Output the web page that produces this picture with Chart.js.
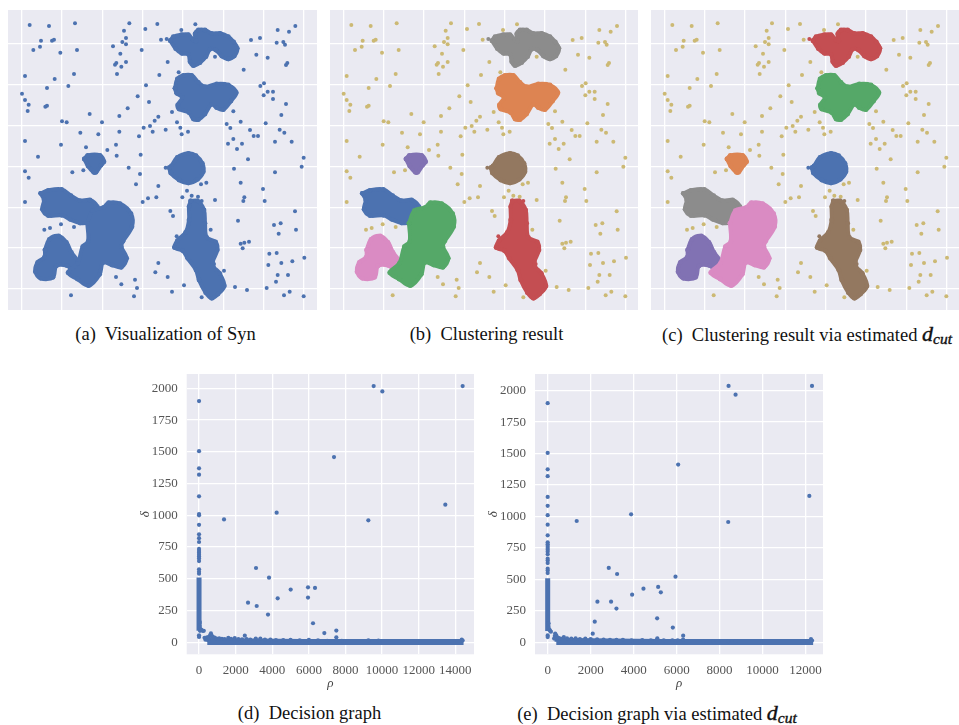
<!DOCTYPE html>
<html>
<head>
<meta charset="utf-8">
<script src="https://cdn.jsdelivr.net/npm/chart.js@4/dist/chart.umd.min.js"></script>
<style>
  html, body { margin: 0; padding: 0; background: #fff; }
  body { position: relative; width: 959px; height: 725px; overflow: hidden; }
  canvas { position: absolute; }
  .cap { position: absolute; transform: translate(-50%, -50%); white-space: pre; color: #111;
         font: 18.5px "Liberation Serif", serif; }
  .cap b { font-style: italic; font-size: 22px; font-weight: 400; -webkit-text-stroke: 0.4px #111; }
  .cap sub { font-size: 15.5px; font-style: italic; vertical-align: -3px; line-height: 0; }
</style>
</head>
<body>
<canvas id="chartA"></canvas>
<canvas id="chartB"></canvas>
<canvas id="chartC"></canvas>
<canvas id="chartD"></canvas>
<canvas id="chartE"></canvas>
<div class="cap" style="left:165.5px;top:334px">(a)  Visualization of Syn</div>
<div class="cap" style="left:486.5px;top:334px">(b)  Clustering result</div>
<div class="cap" style="left:807px;top:334px">(c)  Clustering result via estimated <b>d<sub>cut</sub></b></div>
<div class="cap" style="left:309.5px;top:713px">(d)  Decision graph</div>
<div class="cap" style="left:657px;top:713px">(e)  Decision graph via estimated <b>d<sub>cut</sub></b></div>
<script>
// scattered points of the Syn set
const noisePts = [[89,45],[147,48],[225,40],[388,40],[436,57],[472,42],[544,60],[586,43],[833,60],[886,48],[867,65],
  [123,92],[156,92],[162,89],[120,110],[100,120],[181,128],[231,120],[339,109],[372,62],[378,84],[367,96],[378,103],
  [361,131],[425,120],[483,89],[753,90],[780,84],[830,98],[850,96],[855,104],[769,134],[803,143],[645,140],
  [503,156],[378,156],[349,159],[345,164],[364,170],[351,192],[75,198],[164,207],[222,192],[478,195],[536,187],
  [731,179],[862,159],[858,165],[205,228],[141,234],[438,226],[781,228],[792,220],[803,245],[819,245],[791,256],
  [819,267],[66,251],[75,270],[86,284],[83,303],[136,290],[141,287],[413,259],[447,276],[383,295],[858,282],[700,304],
  [516,306],[269,312],[358,318],[475,320],[844,315],[464,332],[186,334],[200,337],[306,337],[531,337],[722,335],
  [797,340],[680,342],[691,354],[450,348],[431,353],[541,353],[497,359],[458,365],[564,365],[545,373],[358,365],
  [241,368],[295,373],[417,379],[750,360],[839,359],[853,368],[761,378],[774,378],[700,387],[75,393],[183,404],
  [348,404],[684,401],[726,401],[825,395],[875,395],[258,412],[322,420],[711,417],[114,440],[350,437],[422,434],
  [744,448],[911,443],[905,470],[386,473],[217,487],[250,481],[75,484],[86,503],[420,492],[702,476],[825,487],
  [408,523],[475,528],[603,523],[619,518],[722,518],[561,542],[789,537],[575,557],[594,560],[547,562],[469,562],
  [444,565],[428,576],[75,576],[733,562],[730,573],[645,570],[794,573],[511,603],[519,618],[885,604],
  [714,632],[822,645],[842,640],[183,643],[222,651],[133,659],[150,654],[632,659],[836,671],[888,659],
  [722,701],[733,698],[747,695],[728,715],[808,731],[830,729],[913,743],[877,754],[844,759],[805,765],
  [475,759],[672,782],[466,787],[833,795],[864,795],[348,801],[503,801],[405,809],[828,815],[364,823],
  [552,826],[705,831],[411,834],[800,834],[741,840],[516,845],[869,845],[852,856],[911,859],[213,856],[402,859],[605,862]];

// stray points that still belong to a cluster
const topStray = [[500,87]];
const roundStray = [[497,473]];
const longStray = [[530,679],[522,712],[605,573],[642,762]];

// dense clusters, each one traced along its rim
const topRim = [[511,92],[520,80],[545,74],[565,74],[580,90],[588,93],[585,72],[595,60],[615,60],[635,70],[660,70],[685,80],[701,96],
  [712,115],[703,138],[685,147],[665,138],[647,120],[630,118],[618,140],[600,158],[580,167],[570,155],[565,133],[545,130],[527,116]];
const secondRim = [[525,235],[532,207],[550,196],[575,196],[595,217],[615,230],[650,222],[685,225],[709,248],[693,273],[670,299],
  [650,293],[635,283],[615,312],[595,329],[580,327],[567,308],[537,297],[533,285],[547,262],[530,250]];
const tinyRim = [[253,447],[263,436],[300,436],[312,455],[303,466],[288,487],[281,487],[264,468]];
const roundRim = [[508,473],[514,468],[532,442],[565,430],[588,437],[607,460],[610,485],[593,508],[565,519],[537,510],[512,489]];
const longRim = [[572,573],[593,573],[612,600],[615,640],[620,682],[647,696],[652,720],[638,755],[640,770],[659,790],[673,828],
  [654,852],[635,865],[617,848],[597,810],[588,780],[563,745],[548,722],[524,713],[532,692],[557,667],[567,630],[567,590]];
const upperRim = [[122,550],[145,541],[185,538],[213,557],[240,572],[270,570],[292,590],[288,608],[270,623],[262,637],[240,639],[210,628],[185,616],[145,617],[127,598],[132,570]];
const greenRim = [[262,640],[278,602],[311,592],[326,578],[360,581],[393,611],[396,650],[369,694],[364,710],[380,745],[364,772],[336,765],
  [309,758],[299,793],[266,827],[232,807],[204,788],[233,760],[248,710],[264,695]];
const lowerRim = [[135,720],[148,688],[176,678],[199,697],[214,727],[233,755],[220,782],[201,767],[169,768],[159,802],[122,805],[106,785],[113,757],[133,742]];

const synGridX = [65,186,307,428,549,670,791,912];
const synGridY = [100,223,346,469,592,714,835];

// decision graph (d)
const peaksD = [[1365,968],[4240,1021],[3113,585],[3823,509],[5006,415],[5953,433],[6335,428],[5953,352],[4296,346],[2676,312],[3150,286],
  [3768,218],[6226,150],[6845,73],[7500,92],[7500,39],[7373,1459],[9539,2018],[10013,1976],[14400,2018],[13453,1084],[9248,961]];
const columnD = [[0,1900],[0,1505],[0,1370],[0,1320],[0,1150],[0,1010],[0,1000],[0,925],[0,850],[0,820],[0,790],[0,735],[0,720],[0,705],[0,690],
  [0,675],[0,660],[0,640],[0,575],[0,555],[0,540],[20,150],[30,130],[40,160],[30,115],[50,90],[80,100],[110,100],[150,95],[200,90],[260,90],[0,55],[0,42]];
const columnLineD = [[0,90],[0,510]];
const tailD = [[300,35],[350,20],[400,38],[450,25],[500,40],[550,30],[600,55],[650,70],[700,50],[750,42],[850,38],[950,30],[1100,32],[1250,28],
  [1400,26],[1600,35],[1750,28],[1950,33],[2150,25],[2350,24],[2500,52],[2600,25],[2800,22],[3100,30],[3350,30],[3600,22],[3900,22],[4200,18],
  [4600,18],[5000,20],[5500,15],[6000,20],[6500,15],[7000,12],[7500,15],[7800,12],[9250,15],[9800,14],[14350,22],[14400,14]];
const baseD = [[450,2],[14450,2]];
const upperBandD = [[400,18],[3000,15],[7000,9],[14400,7]];
const xTicksD = [0,2000,4000,6000,8000,10000,12000,14000];

// decision graph (e)
const peaksE = [[8416,2037],[8742,1968],[12298,2037],[12174,1163],[6071,1412],[8400,956],[1351,964],[3882,1017],[2842,591],[3230,543],[5947,522],
  [3929,379],[4457,426],[5140,440],[5264,397],[2314,323],[2950,323],[3199,268],[2190,164],[5093,191],[5823,117],[6304,53],[2096,69]];
const columnE = [[0,1900],[0,1505],[0,1375],[0,1320],[0,1155],[0,1085],[0,1010],[0,935],[0,850],[0,795],[0,780],[0,765],[0,750],[0,735],[0,720],
  [0,700],[0,665],[0,650],[0,630],[0,585],[0,570],[0,550],[20,150],[30,130],[40,150],[40,115],[60,100],[90,100],[120,90],[150,85],[0,55],[0,42]];
const columnLineE = [[0,90],[0,510]];
const tailE = [[300,30],[330,50],[350,70],[400,55],[430,40],[500,35],[600,30],[750,42],[900,32],[1100,30],[1300,32],[1500,25],[1750,30],[2000,26],
  [2300,24],[2600,22],[2900,20],[3200,20],[3500,20],[3900,15],[4400,18],[4800,15],[5100,32],[5400,15],[5800,15],[6050,16],[6300,22],[7250,10],
  [7700,10],[8400,10],[8750,10],[12250,25],[12300,14]];
const baseE = [[400,2],[12350,2]];
const upperBandE = [[320,20],[3000,15],[6300,9],[12300,7]];
const xTicksE = [0,2000,4000,6000,8000,10000,12000];
const yTicks = [0,250,500,750,1000,1250,1500,1750,2000];

const toXY = (pts) => pts.map((p) => ({ x: p[0], y: p[1] }));
const rims = { top: topRim, second: secondRim, tiny: tinyRim, round: roundRim, long: longRim, upper: upperRim, green: greenRim, lower: lowerRim };
const strays = { top: topStray, round: roundStray, long: longStray };

const BLUE = "#4c72b0", ORANGE = "#dd8452", GREEN = "#55a868", RED = "#c44e52", PURPLE = "#8172b3",
  BROWN = "#937860", PINK = "#da8bc3", GRAY = "#8c8c8c", SAND = "#ccb974";
const PANEL = "#eaeaf2";

const panelBg = {
  id: "panelBg",
  beforeDraw(chart) {
    const a = chart.chartArea;
    chart.ctx.fillStyle = PANEL;
    chart.ctx.fillRect(a.left, a.top, a.width, a.height);
  },
};

// fills a rim dataset as a closed shape, right before its line goes on
const rimFill = {
  id: "rimFill",
  beforeDatasetDraw(chart, args) {
    const ds = chart.data.datasets[args.index];
    if (!ds.isRim) return;
    const line = chart.getDatasetMeta(args.index).dataset;
    const ctx = chart.ctx;
    line.updateControlPoints(chart.chartArea);
    ctx.save();
    ctx.fillStyle = ds.backgroundColor;
    ctx.beginPath();
    line.path(ctx);
    ctx.closePath();
    ctx.fill();
    ctx.restore();
  },
};

function place(id, left, top, w, h) {
  const el = document.getElementById(id);
  el.style.left = left + "px";
  el.style.top = top + "px";
  el.style.width = w + "px";
  el.style.height = h + "px";
  el.width = w;
  el.height = h;
  return el;
}

function synChart(id, left, width, xr, colors) {
  const order = ["green", "upper", "lower", "top", "second", "tiny", "round", "long"];
  const sets = order.map((n) => ({
    data: toXY(rims[n].concat([rims[n][0]])),
    isRim: true,
    showLine: true,
    tension: 0.35,
    borderColor: colors[n],
    borderWidth: 4,
    borderJoinStyle: "round",
    backgroundColor: colors[n],
    pointRadius: 2.4,
    pointBorderWidth: 0,
  }));
  Object.keys(strays).forEach((n) => {
    sets.push({ data: toXY(strays[n]), backgroundColor: colors[n], pointRadius: 2, pointBorderWidth: 0 });
  });
  sets.push({ data: toXY(noisePts), backgroundColor: colors.noise, pointRadius: 2, pointBorderWidth: 0 });
  new Chart(place(id, left, 10, width, 300), {
    type: "scatter",
    data: { datasets: sets },
    plugins: [panelBg, rimFill],
    options: {
      responsive: false,
      animation: false,
      layout: { padding: 0, autoPadding: false },
      plugins: { legend: { display: false }, tooltip: { enabled: false } },
      scales: {
        x: { min: xr[0], max: xr[1], ticks: { display: false }, border: { display: false },
          grid: { color: "#fff", lineWidth: 1.3, drawTicks: false },
          afterBuildTicks: (ax) => { ax.ticks = synGridX.map((v) => ({ value: v })); },
          afterFit: (ax) => { ax.height = 0; } },
        y: { min: 0, max: 900, reverse: true, ticks: { display: false }, border: { display: false },
          grid: { color: "#fff", lineWidth: 1.3, drawTicks: false },
          afterBuildTicks: (ax) => { ax.ticks = synGridY.map((v) => ({ value: v })); },
          afterFit: (ax) => { ax.width = 0; } },
      },
    },
  });
}

function decisionChart(id, left, width, xr, xTicks, yr, peaks, column, columnLine, tail, base, band, yLeft) {
  const tickFont = { family: "Liberation Serif", size: 13 };
  const dot = { backgroundColor: BLUE, pointRadius: 2.1, pointBorderWidth: 0 };
  const thick = { showLine: true, borderColor: BLUE, pointRadius: 0, backgroundColor: BLUE };
  new Chart(place(id, left, 365, width, 326), {
    type: "scatter",
    data: {
      datasets: [
        { data: toXY(peaks), ...dot },
        { data: toXY(column), ...dot },
        { data: toXY(tail), ...dot },
        { data: toXY(columnLine), ...thick, borderWidth: 5 },
        { data: toXY(base), ...thick, borderWidth: 6 },
        { data: toXY(band), ...thick, borderWidth: 4 },
      ],
    },
    plugins: [panelBg],
    options: {
      responsive: false,
      animation: false,
      layout: { padding: { top: 9, right: 6, left: 0, bottom: 0 }, autoPadding: false },
      plugins: { legend: { display: false }, tooltip: { enabled: false } },
      scales: {
        x: {
          min: xr[0], max: xr[1],
          border: { display: false },
          grid: { color: "#fff", lineWidth: 1.3, drawTicks: false },
          ticks: { font: tickFont, color: "#555", padding: 8, maxRotation: 0, autoSkip: false, callback: (v) => String(v) },
          afterBuildTicks: (ax) => { ax.ticks = xTicks.map((v) => ({ value: v })); },
          title: { display: true, text: "ρ", font: { family: "Liberation Serif", size: 13, style: "italic" }, color: "#444", padding: { top: 4, bottom: 0 } },
          afterFit: (ax) => { ax.height = 36.7; ax.paddingLeft = 0; ax.paddingRight = 0; },
        },
        y: {
          min: yr[0], max: yr[1],
          border: { display: false },
          grid: { color: "#fff", lineWidth: 1.3, drawTicks: false },
          ticks: { font: tickFont, color: "#555", padding: 9, autoSkip: false, callback: (v) => String(v) },
          afterBuildTicks: (ax) => { ax.ticks = yTicks.map((v) => ({ value: v })); },
          title: { display: true, text: "δ", font: { family: "Liberation Serif", size: 13, style: "italic" }, color: "#444", padding: { top: 0, bottom: 4 } },
          afterFit: (ax) => { ax.width = yLeft; ax.paddingTop = 0; ax.paddingBottom = 0; },
        },
      },
    },
  });
}

const allBlue = { top: BLUE, second: BLUE, tiny: BLUE, round: BLUE, long: BLUE, upper: BLUE, green: BLUE, lower: BLUE, noise: BLUE };
synChart("chartA", 8, 309, [24, 951], allBlue);
synChart("chartB", 330, 308, [25, 949], { top: GRAY, second: ORANGE, tiny: PURPLE, round: BROWN, long: RED, upper: BLUE, green: GREEN, lower: PINK, noise: SAND });
synChart("chartC", 651, 308, [25, 949], { top: RED, second: GREEN, tiny: ORANGE, round: BLUE, long: BROWN, upper: GRAY, green: PINK, lower: PURPLE, noise: SAND });

decisionChart("chartD", 138, 342, [-674, 15020], xTicksD, [-94.5, 2113], peaksD, columnD, columnLineD, tailD, baseD, upperBandD, 48.7);
decisionChart("chartE", 486, 343, [-590, 12810], xTicksE, [-95, 2132], peaksE, columnE, columnLineE, tailE, baseE, upperBandE, 49);
</script>
</body>
</html>
